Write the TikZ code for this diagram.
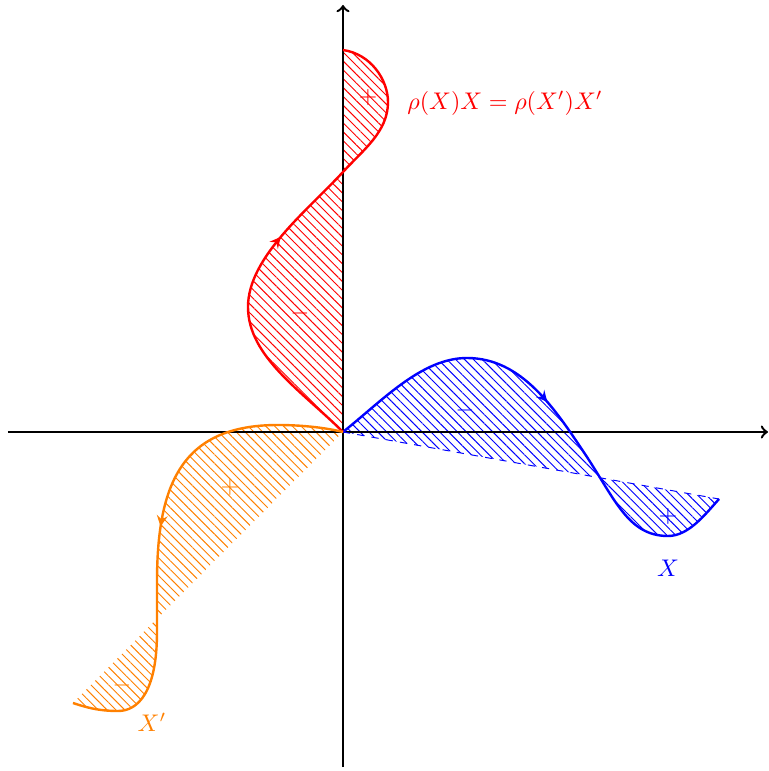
\documentclass[tikz,border=0pt]{standalone}
\usetikzlibrary{patterns.meta,decorations.markings}
\definecolor{myorange}{RGB}{255,128,0}
\begin{document}
\begin{tikzpicture}[x=0.0146cm,y=0.0146cm,
  axis/.style={line width=1pt,->},
  curve/.style={line width=1pt, postaction={decorate},
    decoration={markings, mark=at position 0.49 with {\arrow{stealth}}}},
  hatch/.style={pattern={Lines[angle=-45,distance=2.6pt,line width=0.4pt]}, pattern color=#1}]
\useasboundingbox (-343,-339) rectangle (426,432);
\def\bluepath{(0,0) .. controls (40,32) and (79,74) .. (124,74)
  .. controls (179,74) and (212,23) .. (242,-22)
  .. controls (272,-67) and (285,-104) .. (325,-104)
  .. controls (345,-104) and (361,-84) .. (376,-67)}
\def\redpath{(0,0) .. controls (-40,40) and (-95,75) .. (-95,125)
  .. controls (-95,175) and (-35,222) .. (0,260)
  .. controls (20,282) and (45,300) .. (45,330)
  .. controls (45,352) and (28,378) .. (0,382)}
\def\orangepath{(0,0) .. controls (-20,5) and (-45,7) .. (-65,7)
  .. controls (-160,7) and (-186,-50) .. (-186,-150)
  -- (-186,-200)
  .. controls (-186,-260) and (-205,-279) .. (-225,-279)
  .. controls (-245,-279) and (-258,-275) .. (-270,-271)}
% hatched regions
\fill[hatch=blue] \bluepath -- cycle;
\fill[hatch=red] \redpath -- cycle;
\fill[hatch=myorange] \orangepath -- cycle;
% axes
\coordinate (xl) at (-335,0);
\coordinate (xr) at (425,0);
\coordinate (yb) at (0,-335);
\coordinate (yt) at (0,427);
\draw[axis] (xl) -- (xr);
\draw[axis] (yb) -- (yt);
% chord of blue
\coordinate (o) at (0,0);
\coordinate (bend) at (376,-67);
\draw[blue, dashed, line width=0.4pt] (o) -- (bend);
% curves
\draw[curve, blue] \bluepath;
\draw[curve, red] \redpath;
\draw[curve, myorange] \orangepath;
% signs
\node[blue] (bm) at (122,22) {$-$};
\node[blue] (bp) at (325,-84) {$+$};
\node[red] (rp) at (25,335) {$+$};
\node[red] (rm) at (-43,119) {$-$};
\node[myorange] (op) at (-113,-55) {$+$};
\node[myorange] (om) at (-221,-253) {$-$};
% labels
\node[blue] (lx) at (325,-136) {$X$};
\node[red] (lr) at (162,329) {$\rho(X)X = \rho(X')X'$};
\node[myorange] (lo) at (-191,-290) {$X'$};
\end{tikzpicture}
\end{document}
